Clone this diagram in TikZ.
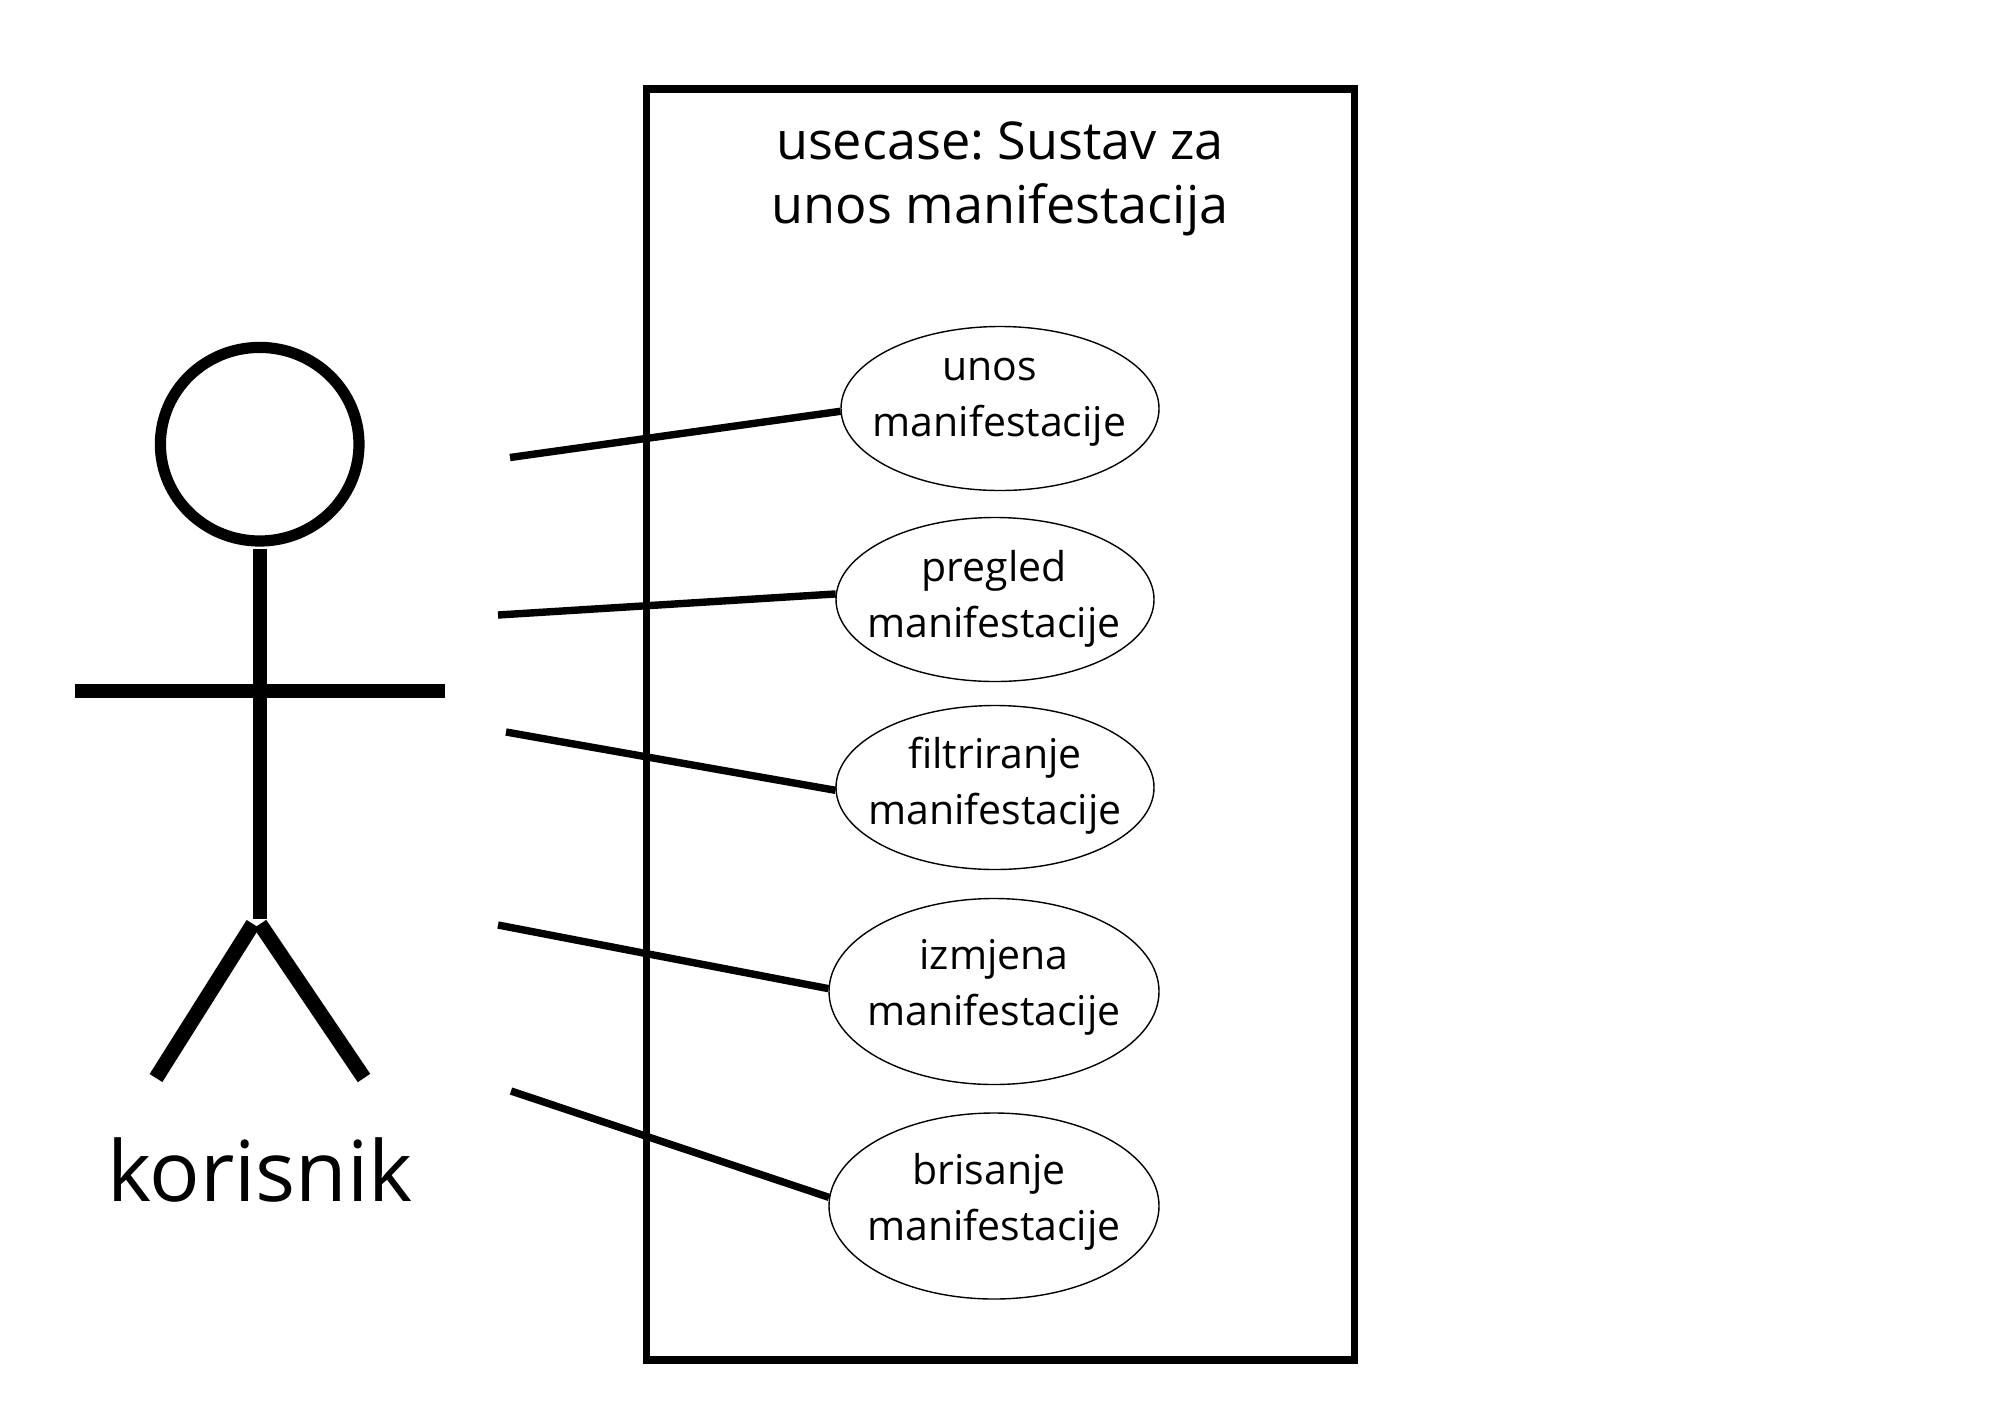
\documentclass[tikz,border=0pt]{standalone}
\usepackage{fontspec}
\setmainfont{Open Sans}
\frenchspacing
\usetikzlibrary{shapes.geometric}
\tikzset{
  x=0.5pt,y=-0.5pt,
  usecaseA/.style={draw,ellipse,line width=0.7pt,inner sep=0pt,minimum width=159pt,minimum height=82pt},
  usecaseB/.style={draw,ellipse,line width=0.7pt,inner sep=0pt,minimum width=165pt,minimum height=93pt},
  uclabel/.style={align=center,inner sep=0pt,font=\fontsize{20.5}{28}\selectfont},
  titlelabel/.style={align=center,inner sep=0pt,font=\fontsize{26.1}{32}\selectfont},
  actorlabel/.style={inner sep=0pt,font=\fontsize{42}{50}\selectfont},
  frame/.style={draw,line width=3.8pt,inner sep=0pt,minimum width=354pt,minimum height=635.5pt},
  assoc/.style={line width=3.7pt},
  limb/.style={line width=7.2pt},
  leg/.style={line width=7.5pt},
}
\begin{document}
\begin{tikzpicture}
\useasboundingbox (0,0) rectangle (2000,1414);
\node[frame] (sys) at (1000.5,724.5) {};
\node[titlelabel] (title) at (1000,178.5) {usecase: Sustav za\\unos manifestacija};
\node[usecaseA] (e1) at (1000,408.5) {};
\node[usecaseA] (e2) at (995,599.5) {};
\node[usecaseA] (e3) at (995,787.5) {};
\node[usecaseB] (e4) at (994,991.5) {};
\node[usecaseB] (e5) at (994,1206) {};
\node[uclabel] (t1) at (999.5,402.5) {unos\kern10pt\\manifestacije};
\node[uclabel] (t2) at (994,599) {pregled\\manifestacije};
\node[uclabel] (t3) at (995,786) {filtriranje\\manifestacije};
\node[uclabel] (t4) at (994,987.5) {izmjena\\manifestacije};
\node[uclabel] (t5) at (994,1202) {brisanje\kern5pt\\manifestacije};
\coordinate (c1) at (510,457.5);
\coordinate (c2) at (498,615);
\coordinate (c3) at (506,732);
\coordinate (c4) at (498,925);
\coordinate (c5) at (511,1091);
\draw[assoc] (c1) -- (e1.181.5);
\draw[assoc] (c2) -- (e2.178);
\draw[assoc] (c3) -- (e3.181);
\draw[assoc] (c4) -- (e4.179);
\draw[assoc] (c5) -- (e5.177.5);
% actor
\node[draw,ellipse,line width=5.6pt,inner sep=0pt,minimum width=99.3pt,minimum height=96.8pt] (head) at (259.7,444.2) {};
\coordinate (neck) at (260,548.7);
\coordinate (hip) at (260,919);
\coordinate (lh) at (75,691);
\coordinate (rh) at (445,691);
\coordinate (lcrotch) at (253,924);
\coordinate (rcrotch) at (260,924);
\coordinate (lf) at (156,1078);
\coordinate (rf) at (364,1078);
\draw[limb] (neck) -- (hip);
\draw[limb] (lh) -- (rh);
\draw[leg] (lf) -- (lcrotch);
\draw[leg] (rf) -- (rcrotch);
\node[actorlabel] (actor) at (260,1170) {korisnik};
\end{tikzpicture}
\end{document}
